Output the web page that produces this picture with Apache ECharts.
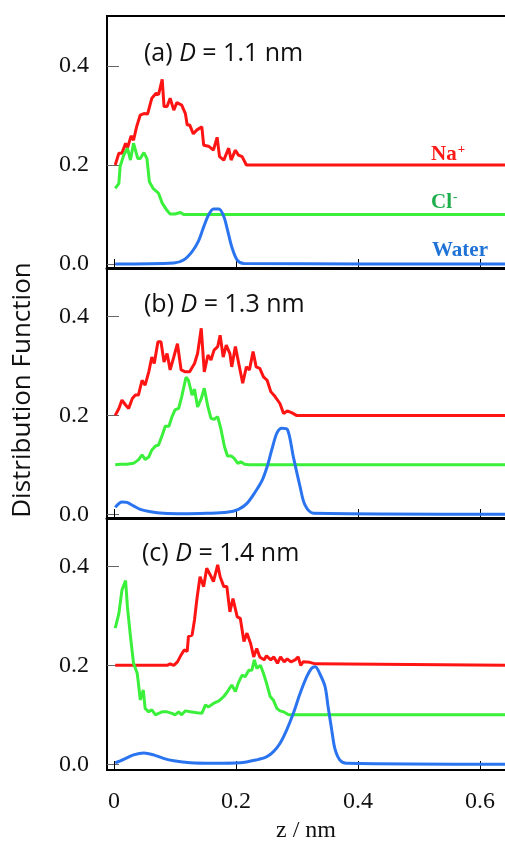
<!DOCTYPE html>
<html>
<head>
<meta charset="utf-8">
<script src="https://cdn.jsdelivr.net/npm/echarts@6/dist/echarts.min.js"></script>
<style>
  html, body { margin: 0; padding: 0; background: #fff; }
  #chart { width: 505px; height: 841px; }
</style>
</head>
<body>
<div id="chart"></div>
<script>
// z (nm) vs distribution function, three slit widths
const xTicks = [0, 0.2, 0.4, 0.6];
const yTicks = [0, 0.2, 0.4];
const panelTitles = ['1.1', '1.3', '1.4'];

const naA = [[0.002,0.2],[0.008,0.224],[0.013,0.224],[0.019,0.244],[0.022,0.234],[0.028,0.259],[0.032,0.25],[0.037,0.277],[0.043,0.301],[0.049,0.304],[0.055,0.303],[0.062,0.335],[0.069,0.345],[0.073,0.342],[0.075,0.345],[0.079,0.373],[0.082,0.318],[0.087,0.318],[0.092,0.335],[0.098,0.311],[0.103,0.326],[0.111,0.321],[0.117,0.304],[0.12,0.281],[0.124,0.281],[0.13,0.263],[0.136,0.271],[0.144,0.277],[0.147,0.24],[0.155,0.238],[0.163,0.23],[0.169,0.256],[0.173,0.217],[0.18,0.21],[0.188,0.234],[0.192,0.21],[0.199,0.23],[0.204,0.22],[0.21,0.217],[0.217,0.2],[0.66,0.2]];
const clA = [[0.002,0.153],[0.008,0.163],[0.01,0.197],[0.016,0.22],[0.022,0.234],[0.027,0.21],[0.032,0.244],[0.039,0.213],[0.043,0.213],[0.049,0.225],[0.054,0.213],[0.058,0.166],[0.064,0.153],[0.073,0.143],[0.079,0.123],[0.087,0.108],[0.092,0.101],[0.1,0.101],[0.109,0.104],[0.114,0.1],[0.66,0.1]];
const waterA = [[0.002,0],[0.098,0.002],[0.114,0.008],[0.128,0.025],[0.139,0.048],[0.147,0.075],[0.155,0.099],[0.163,0.111],[0.172,0.111],[0.18,0.096],[0.186,0.069],[0.193,0.035],[0.202,0.008],[0.213,0.001],[0.66,0]];

const naB = [[0.002,0.2],[0.008,0.214],[0.013,0.231],[0.019,0.221],[0.024,0.214],[0.03,0.234],[0.035,0.241],[0.04,0.241],[0.046,0.271],[0.051,0.261],[0.057,0.288],[0.062,0.318],[0.066,0.305],[0.072,0.349],[0.077,0.349],[0.082,0.308],[0.087,0.325],[0.092,0.292],[0.098,0.318],[0.104,0.345],[0.11,0.292],[0.117,0.288],[0.124,0.288],[0.132,0.305],[0.137,0.325],[0.143,0.376],[0.148,0.288],[0.154,0.322],[0.159,0.312],[0.164,0.332],[0.17,0.339],[0.174,0.362],[0.179,0.318],[0.184,0.342],[0.19,0.325],[0.193,0.298],[0.199,0.339],[0.204,0.308],[0.211,0.265],[0.217,0.298],[0.222,0.292],[0.228,0.329],[0.233,0.298],[0.239,0.295],[0.245,0.278],[0.251,0.271],[0.257,0.248],[0.264,0.238],[0.272,0.224],[0.278,0.204],[0.284,0.209],[0.292,0.205],[0.299,0.2],[0.66,0.2]];
const clB = [[0.002,0.1],[0.01,0.101],[0.021,0.101],[0.032,0.103],[0.04,0.11],[0.046,0.12],[0.051,0.111],[0.057,0.116],[0.062,0.13],[0.068,0.138],[0.073,0.14],[0.079,0.16],[0.084,0.178],[0.09,0.178],[0.095,0.197],[0.1,0.211],[0.106,0.214],[0.111,0.238],[0.118,0.277],[0.122,0.271],[0.128,0.241],[0.132,0.253],[0.137,0.217],[0.143,0.234],[0.148,0.255],[0.154,0.217],[0.159,0.194],[0.164,0.192],[0.17,0.197],[0.175,0.174],[0.181,0.137],[0.186,0.118],[0.192,0.118],[0.197,0.113],[0.203,0.103],[0.208,0.106],[0.214,0.101],[0.221,0.1],[0.66,0.1]];
const waterB = [[0.002,0.014],[0.013,0.025],[0.021,0.024],[0.032,0.017],[0.043,0.01],[0.06,0.005],[0.081,0.002],[0.114,0.001],[0.152,0.002],[0.185,0.004],[0.204,0.01],[0.218,0.022],[0.232,0.046],[0.243,0.069],[0.251,0.096],[0.259,0.132],[0.267,0.164],[0.275,0.174],[0.284,0.172],[0.294,0.116],[0.305,0.056],[0.313,0.019],[0.327,0.002],[0.66,0]];

const naC = [[0.002,0.2],[0.087,0.2],[0.092,0.203],[0.098,0.2],[0.104,0.207],[0.11,0.221],[0.115,0.231],[0.12,0.228],[0.122,0.258],[0.128,0.261],[0.132,0.292],[0.136,0.335],[0.141,0.379],[0.147,0.359],[0.152,0.396],[0.158,0.382],[0.163,0.369],[0.17,0.403],[0.174,0.379],[0.18,0.359],[0.185,0.359],[0.19,0.308],[0.195,0.335],[0.202,0.298],[0.207,0.295],[0.213,0.248],[0.218,0.265],[0.224,0.244],[0.229,0.217],[0.234,0.234],[0.239,0.217],[0.246,0.211],[0.25,0.219],[0.257,0.211],[0.262,0.217],[0.268,0.204],[0.273,0.217],[0.279,0.207],[0.284,0.213],[0.29,0.207],[0.297,0.211],[0.302,0.217],[0.306,0.2],[0.31,0.207],[0.321,0.206],[0.33,0.203],[0.333,0.2],[0.66,0.2]];
const clC = [[0.002,0.275],[0.008,0.305],[0.013,0.352],[0.019,0.371],[0.022,0.318],[0.027,0.258],[0.032,0.204],[0.038,0.184],[0.04,0.164],[0.043,0.13],[0.048,0.15],[0.051,0.113],[0.057,0.106],[0.062,0.11],[0.068,0.1],[0.073,0.103],[0.079,0.106],[0.087,0.106],[0.095,0.103],[0.1,0.1],[0.106,0.106],[0.111,0.1],[0.117,0.108],[0.125,0.106],[0.136,0.104],[0.144,0.103],[0.15,0.12],[0.155,0.116],[0.163,0.123],[0.172,0.128],[0.18,0.137],[0.186,0.147],[0.193,0.16],[0.199,0.147],[0.204,0.165],[0.21,0.18],[0.215,0.177],[0.221,0.19],[0.226,0.19],[0.23,0.211],[0.234,0.194],[0.24,0.2],[0.245,0.184],[0.25,0.164],[0.256,0.137],[0.261,0.13],[0.267,0.113],[0.272,0.108],[0.278,0.106],[0.286,0.1],[0.66,0.1]];
const waterC = [[0.002,0.003],[0.016,0.01],[0.032,0.019],[0.049,0.023],[0.065,0.019],[0.081,0.012],[0.098,0.007],[0.125,0.003],[0.163,0.002],[0.207,0.003],[0.234,0.009],[0.25,0.015],[0.261,0.025],[0.272,0.042],[0.283,0.069],[0.294,0.103],[0.305,0.143],[0.316,0.177],[0.324,0.194],[0.33,0.197],[0.337,0.184],[0.346,0.157],[0.351,0.116],[0.357,0.069],[0.362,0.032],[0.37,0.009],[0.381,0.002],[0.66,0]];

const RED = '#ff1414';
const GREEN = '#3af03a';
const BLUE = '#2a74f0';

const chart = echarts.init(document.getElementById('chart'));

const grids = [
  { top: 16, height: 252, ymin: -0.008, ymax: 0.501 },
  { top: 268, height: 250, ymin: -0.0075, ymax: 0.498 },
  { top: 518, height: 252, ymin: -0.0115, ymax: 0.4976 }
];
const X_MIN = -0.0115, X_MAX = 0.6574;

const serif = 'Liberation Serif';
const sans = 'Open Sans';

function xAxisFor(i) {
  const last = i === 2;
  return {
    type: 'value', gridIndex: i, min: X_MIN, max: X_MAX,
    axisLine: { show: true, onZero: false, lineStyle: { color: '#000', width: last ? 2 : 3 } },
    axisTick: { show: true, inside: true, length: 9, customValues: xTicks, lineStyle: { color: '#000', width: 1 } },
    axisLabel: {
      show: last, customValues: xTicks, margin: 20,
      fontFamily: serif, fontSize: 24, color: '#111',
      formatter: v => (v === 0 ? '0' : v.toFixed(1))
    },
    splitLine: { show: false }
  };
}

function yAxisFor(i) {
  return {
    type: 'value', gridIndex: i, min: grids[i].ymin, max: grids[i].ymax,
    axisLine: { show: true, onZero: false, lineStyle: { color: '#000', width: 2 } },
    axisTick: { show: true, inside: true, length: 12, customValues: yTicks, lineStyle: { color: '#666', width: 1 } },
    axisLabel: {
      customValues: yTicks, margin: 18,
      fontFamily: serif, fontSize: 24, color: '#111',
      formatter: v => v.toFixed(1)
    },
    splitLine: { show: false }
  };
}

function line(data, color, i, smooth) {
  return {
    type: 'line', data: data, xAxisIndex: i, yAxisIndex: i,
    showSymbol: false, silent: true, smooth: smooth || false,
    lineStyle: { color: color, width: 3 }
  };
}

const titleY = [54, 305, 554];
const titleX = [144, 144, 142];
const letters = ['a', 'b', 'c'];

const graphics = panelTitles.map((d, i) => ({
  type: 'text', x: titleX[i], y: titleY[i],
  style: {
    text: '(' + letters[i] + ') {it|D} = ' + d + ' nm',
    font: '25px "Open Sans"', fill: '#111', verticalAlign: 'middle',
    rich: { it: { fontStyle: 'italic', fontFamily: sans, fontSize: 25, fill: '#111' } }
  }
}));

graphics.push({
  type: 'text', x: 23, y: 390, rotation: Math.PI / 2,
  style: {
    text: 'Distribution Function', font: '26px "Open Sans"', fill: '#111',
    align: 'center', verticalAlign: 'middle'
  }
});
graphics.push({
  type: 'text', x: 306, y: 831,
  style: { text: 'z / nm', font: '24px "Liberation Serif"', fill: '#111', align: 'center', verticalAlign: 'middle' }
});
graphics.push({
  type: 'text', x: 431, y: 155,
  style: {
    text: 'Na{sup|+}', font: 'bold 21px "Liberation Serif"', fill: '#ff1a1a', verticalAlign: 'middle',
    rich: { sup: { fontSize: 13, fontWeight: 'bold', fontFamily: serif, fill: '#ff1a1a', verticalAlign: 'top', padding: [0, 0, 10, 1] } }
  }
});
graphics.push({
  type: 'text', x: 431, y: 203,
  style: {
    text: 'Cl{sup|-}', font: 'bold 21px "Liberation Serif"', fill: '#1fae4c', verticalAlign: 'middle',
    rich: { sup: { fontSize: 13, fontWeight: 'bold', fontFamily: serif, fill: '#1fae4c', verticalAlign: 'top', padding: [0, 0, 10, 1] } }
  }
});
graphics.push({
  type: 'text', x: 432, y: 251,
  style: { text: 'Water', font: 'bold 21px "Liberation Serif"', fill: '#1f72d6', verticalAlign: 'middle' }
});

chart.setOption({
  animation: false,
  grid: grids.map(g => ({
    left: 107, width: 408, top: g.top, height: g.height,
    outerBoundsMode: 'none', containLabel: false,
    show: true, borderColor: '#000', borderWidth: 2, backgroundColor: 'transparent'
  })),
  xAxis: [0, 1, 2].map(xAxisFor),
  yAxis: [0, 1, 2].map(yAxisFor),
  series: [
    line(naA, RED, 0), line(clA, GREEN, 0), line(waterA, BLUE, 0, 0.3),
    line(naB, RED, 1), line(clB, GREEN, 1), line(waterB, BLUE, 1, 0.3),
    line(naC, RED, 2), line(clC, GREEN, 2), line(waterC, BLUE, 2, 0.3)
  ],
  graphic: graphics
});
</script>
</body>
</html>
